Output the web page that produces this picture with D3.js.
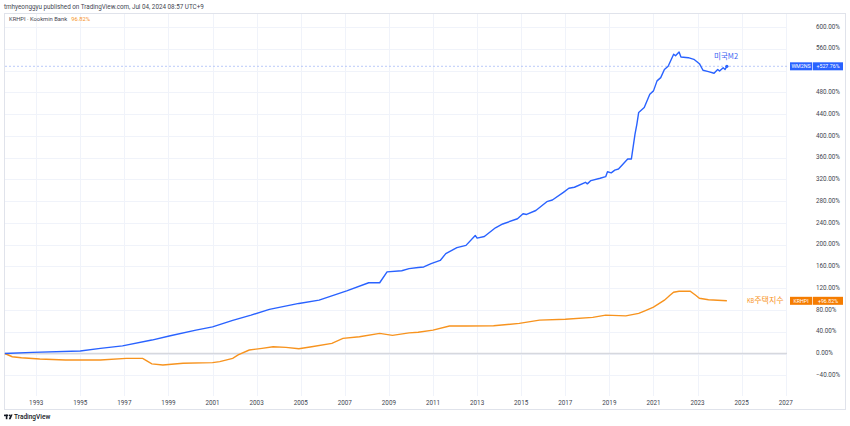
<!DOCTYPE html>
<html>
<head>
<meta charset="utf-8">
<script src="https://cdn.jsdelivr.net/npm/d3@7"></script>
<style>
  body { margin: 0; background: #fff; }
  svg text { font-family: Roboto, "Noto Sans", sans-serif; }
</style>
</head>
<body>
<div id="chart"></div>
<script>
// US M2 (WM2NS) - % change since Aug 1991
var m2Dates = ["1991-08","1992-11","1995-01","1995-12","1996-12","1998-04","1999-02","2000-04","2001-01","2001-12",
    "2002-10","2003-08","2004-12","2005-11","2007-02","2008-02","2008-08","2008-12","2009-08","2009-12",
    "2010-05","2010-08","2010-12","2011-05","2011-08","2012-02","2012-07","2012-12","2013-01","2013-05",
    "2013-11","2014-03","2014-11","2015-02","2015-04","2015-09","2016-03","2016-06","2016-12","2017-03",
    "2017-06","2017-12","2018-01","2018-03","2018-08","2018-11","2018-12","2019-02","2019-04","2019-06",
    "2019-11","2020-01","2020-03","2020-04","2020-05","2020-08","2020-11","2021-01","2021-03","2021-05",
    "2021-07","2021-09","2021-12","2022-01","2022-03","2022-04","2022-08","2022-11","2023-02","2023-04",
    "2023-07","2023-10","2023-12","2024-01","2024-03","2024-04","2024-05"];
var m2Values = [0, 2, 4.6, 9.5, 14, 24.7, 32.6, 43, 49, 61,
    70.5, 81, 92, 98, 115, 130, 130, 150, 152, 156,
    158, 159, 165, 171, 183.5, 194.5, 198.7, 217, 212, 215,
    231, 238, 247.6, 256.8, 255.5, 262.8, 279, 282, 296, 303.7,
    305.5, 314.6, 311.7, 317.8, 322, 325, 334, 332, 337, 339,
    357.5, 357.5, 403, 421.6, 443, 452, 476.6, 482.6, 501, 507,
    522, 528, 550, 547, 554, 545, 543.6, 540.6, 532.6, 520.5,
    518, 515, 522, 519, 525, 522, 527.76];

// KB housing price index (KRHPI) - % change since Aug 1991
var hpiDates = ["1991-08","1991-12","1992-05","1993-03","1994-05","1995-12","1997-02","1997-11","1998-01","1998-04",
    "1998-10","1999-09","2001-01","2001-05","2001-12","2002-03","2002-09","2003-04","2003-10","2004-05",
    "2004-12","2005-07","2006-06","2006-12","2007-09","2008-08","2009-03","2009-12","2010-05","2011-01",
    "2011-10","2012-07","2013-10","2014-12","2015-11","2017-01","2018-04","2018-11","2019-10","2020-05",
    "2020-08","2021-01","2021-07","2021-10","2021-12","2022-03","2022-09","2022-12","2023-02","2023-07",
    "2024-05"];
var hpiValues = [0, -5.9, -7.7, -10, -12, -12, -8.9, -8.9, -13, -19,
    -21, -18, -16.8, -15, -9, -2.7, 6.4, 9.5, 12.5, 11.3,
    8.8, 12.5, 18.7, 27.8, 30.8, 37, 33.3, 38, 39, 43,
    50.4, 50.4, 51, 55.3, 61.4, 63, 66.3, 70.5, 69.2, 73.6,
    77.8, 85.2, 98, 107, 112.6, 114.5, 114.5, 107, 101.6, 98.9,
    96.82];

var yTicks = [-40, 0, 40, 80, 120, 160, 200, 240, 280, 320, 360, 400, 440, 480, 520, 560, 600];
var xTickYears = [1993, 1995, 1997, 1999, 2001, 2003, 2005, 2007, 2009, 2011, 2013, 2015, 2017, 2019, 2021, 2023, 2025, 2027];

var width = 850, height = 426;
var blue = "#2962ff", orange = "#f7931e";
var parse = d3.timeParse("%Y-%m");

var svg = d3.select("#chart").append("svg")
    .attr("width", width)
    .attr("height", height);

var x = d3.scaleTime()
    .domain([new Date(1991, 6, 18), new Date(2027, 0, 22)])
    .range([4, 787]);

var y = d3.scaleLinear()
    .domain([0, 600])
    .range([353.5, 27]);

// header
svg.append("text")
    .attr("x", 4)
    .attr("y", 7)
    .text("tmhyeonggyu published on TradingView.com, Jul 04, 2024 08:57 UTC+9")
    .style("font-size", "6.3px")
    .style("fill", "#434651")
    .attr("dominant-baseline", "middle");

// border of the chart pane
svg.append("rect")
    .attr("x", 4.5)
    .attr("y", 13.5)
    .attr("width", 841)
    .attr("height", 396)
    .style("fill", "none")
    .style("stroke", "#e0e3eb")
    .style("stroke-width", "1px");

// grid
svg.append("g").selectAll("line")
    .data(yTicks)
    .join("line")
    .attr("x1", 5).attr("x2", 787)
    .attr("y1", d => Math.round(y(d)) + 0.5)
    .attr("y2", d => Math.round(y(d)) + 0.5)
    .style("stroke", "#f0f3fa")
    .style("stroke-width", "1px");

svg.append("g").selectAll("line")
    .data(xTickYears)
    .join("line")
    .attr("x1", d => Math.round(x(new Date(d, 0, 1))) + 0.5)
    .attr("x2", d => Math.round(x(new Date(d, 0, 1))) + 0.5)
    .attr("y1", 14).attr("y2", 396)
    .style("stroke", "#f0f3fa")
    .style("stroke-width", "1px");

// zero line
svg.append("line")
    .attr("x1", 5).attr("x2", 787)
    .attr("y1", y(0)).attr("y2", y(0))
    .style("stroke", "#d6d8de")
    .style("stroke-width", "1.5px");

// legend
var legendName = svg.append("text")
    .attr("x", 9)
    .attr("y", 19.5)
    .text("KRHPI · Kookmin Bank")
    .style("font-size", "5.8px")
    .style("fill", "#434651")
    .attr("dominant-baseline", "middle");

var nameWidth = legendName.node().getComputedTextLength();
svg.append("text")
    .attr("x", 9 + nameWidth + 4)
    .attr("y", 19.5)
    .text("96.82%")
    .style("font-size", "5.8px")
    .style("fill", orange)
    .attr("dominant-baseline", "middle");

// last value dashed line for M2
svg.append("line")
    .attr("x1", 5).attr("x2", 787)
    .attr("y1", y(527.76)).attr("y2", y(527.76))
    .style("stroke", "#9fb4f7")
    .style("stroke-width", "0.7px")
    .style("stroke-dasharray", "2,2");

var line = d3.line()
    .x(d => x(d[0]))
    .y(d => y(d[1]));

var hpiData = hpiDates.map((d, i) => [parse(d), hpiValues[i]]);
var m2Data = m2Dates.map((d, i) => [parse(d), m2Values[i]]);

svg.append("path")
    .datum(hpiData)
    .attr("d", line)
    .style("fill", "none")
    .style("stroke", orange)
    .style("stroke-width", "1.4px");

svg.append("path")
    .datum(m2Data)
    .attr("d", line)
    .style("fill", "none")
    .style("stroke", blue)
    .style("stroke-width", "1.4px")
    .style("stroke-linejoin", "round");

var lastM2 = m2Data[m2Data.length - 1];
svg.append("circle")
    .attr("cx", x(lastM2[0]))
    .attr("cy", y(lastM2[1]))
    .attr("r", 1.6)
    .style("fill", blue);

// annotations
svg.append("text")
    .attr("x", 714)
    .attr("y", 57)
    .text("미국M2")
    .style("font-family", "'Noto Sans CJK KR', sans-serif")
    .style("font-size", "7.5px")
    .style("fill", "#3a63f2")
    .attr("dominant-baseline", "middle");

var kb = svg.append("text")
    .attr("x", 747)
    .attr("y", 300.5)
    .style("font-family", "'Noto Sans CJK KR', sans-serif")
    .style("fill", orange)
    .attr("dominant-baseline", "middle");
kb.append("tspan").text("KB").style("font-size", "5.5px");
kb.append("tspan").text("주택지수").style("font-size", "8px");

// price axis labels (520% sits under the M2 tag)
svg.append("g").selectAll("text")
    .data(yTicks.filter(d => Math.abs(d - 527.76) > 15))
    .join("text")
    .attr("x", 816)
    .attr("y", d => y(d))
    .text(d => d3.format(".2f")(d) + "%")
    .style("font-size", "6.3px")
    .style("fill", "#434651")
    .attr("dominant-baseline", "middle");

// time axis labels
svg.append("g").selectAll("text")
    .data(xTickYears)
    .join("text")
    .attr("x", d => x(new Date(d, 0, 1)))
    .attr("y", 403)
    .text(d => d)
    .style("font-size", "6.3px")
    .style("fill", "#434651")
    .attr("text-anchor", "middle")
    .attr("dominant-baseline", "middle");

// price tags
function tag(value, name, color) {
    var cy = y(value);
    svg.append("rect")
        .attr("x", 790).attr("y", cy - 4)
        .attr("width", 22).attr("height", 8)
        .style("fill", color);
    svg.append("rect")
        .attr("x", 812.7).attr("y", cy - 4)
        .attr("width", 30.3).attr("height", 8)
        .style("fill", color);
    svg.append("text")
        .attr("x", 801).attr("y", cy + 0.3)
        .text(name)
        .style("font-size", "5.3px")
        .style("fill", "white")
        .attr("text-anchor", "middle")
        .attr("dominant-baseline", "middle");
    svg.append("text")
        .attr("x", 828).attr("y", cy + 0.3)
        .text("+" + d3.format(".2f")(value) + "%")
        .style("font-size", "5.3px")
        .style("fill", "white")
        .attr("text-anchor", "middle")
        .attr("dominant-baseline", "middle");
}
tag(527.76, "WM2NS", blue);
tag(96.82, "KRHPI", "#f57c00");

// TradingView logo
var logo = svg.append("g").style("fill", "#131722");
logo.append("rect").attr("x", 4).attr("y", 414.6).attr("width", 4).attr("height", 1.6);
logo.append("rect").attr("x", 5.8).attr("y", 414.6).attr("width", 1.6).attr("height", 4.6);
logo.append("circle").attr("cx", 9.4).attr("cy", 415.4).attr("r", 0.8);
logo.append("polygon").attr("points", "10.6,414.6 12.6,414.6 10.6,419.2 8.8,419.2");
logo.append("text")
    .attr("x", 14)
    .attr("y", 417)
    .text("TradingView")
    .style("font-size", "6.5px")
    .style("font-weight", "500")
    .style("fill", "#131722")
    .attr("dominant-baseline", "middle");
</script>
</body>
</html>
